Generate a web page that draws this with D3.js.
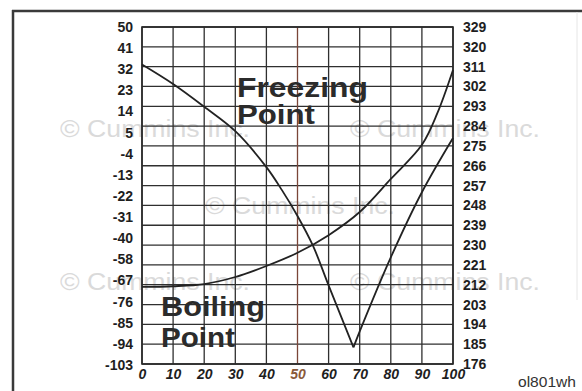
<!DOCTYPE html>
<html>
<head>
<meta charset="utf-8">
<script src="https://cdn.jsdelivr.net/npm/d3@7/dist/d3.min.js"></script>
<style>
  html, body { margin: 0; padding: 0; background: #fff; }
  svg { display: block; }
  text { font-family: "Liberation Sans", Arial, sans-serif; }
</style>
</head>
<body>
<svg id="chart" width="582" height="391"></svg>
<script>
// ---- data ----
const percentTicks = [0, 10, 20, 30, 40, 50, 60, 70, 80, 90, 100];
const leftTickLabels = ["50","41","32","23","14","5","-4","-13","-22","-31","-40","-58","-67","-76","-85","-94","-103"];
const rightTicks = [329,320,311,302,293,284,275,266,257,248,239,230,221,212,203,194,185,176];

// Freezing point (left axis, °F) vs percent
const freezeFallX = [0, 10, 20, 30, 40, 45, 50, 55, 60, 68];
const freezeFallY = [34, 25.7, 16, 5.6, -9.7, -19.5, -30.5, -46.5, -69.1, -95.5];
const freezeRiseX = [68, 70, 80, 90, 100];
const freezeRiseY = [-95.5, -88.7, -56.3, -20.4, 2.7];

// Boiling point (right axis, °F) vs percent
const boilX = [0, 10, 20, 30, 40, 50, 60, 70, 80, 90, 95, 100];
const boilY = [211, 211.3, 212.3, 215.5, 220.5, 226.5, 234.5, 245, 260, 275.5, 290, 309.5];

const watermarkText = "© Cummins Inc.";

// ---- layout ----
const svg = d3.select("#chart");
const X0 = 142, X1 = 453, Y0 = 27, Y1 = 364;

const x = d3.scaleLinear().domain([0, 100]).range([X0, X1]);
const yRight = d3.scaleLinear().domain([176, 329]).range([Y1, Y0]);
const yLeftLabels = d3.scalePoint().domain(leftTickLabels).range([27, 365]);
// left axis values are printed irregularly (-40 then -58), map through the label positions
const yLeft = d3.scaleLinear()
  .domain([50, -40, -58, -103])
  .range([yLeftLabels("50"), yLeftLabels("-40"), yLeftLabels("-58"), yLeftLabels("-103")]);

// outer frame
svg.append("line").attr("x1", 13).attr("x2", 13).attr("y1", 10).attr("y2", 391)
  .attr("stroke", "#3a3a3a").attr("stroke-width", 2.5);
svg.append("line").attr("x1", 12).attr("x2", 582).attr("y1", 11).attr("y2", 11)
  .attr("stroke", "#3a3a3a").attr("stroke-width", 2.5);
svg.append("line").attr("x1", 577).attr("x2", 577).attr("y1", 12).attr("y2", 300)
  .attr("stroke", "#e6e6e6").attr("stroke-width", 1);

// watermarks
const wm = [[60, 137], [350, 137], [205, 214], [60, 290], [350, 290]];
svg.append("g").selectAll("text").data(wm).enter().append("text")
  .attr("x", d => d[0]).attr("y", d => d[1])
  .attr("font-size", 23)
  .attr("textLength", 190).attr("lengthAdjust", "spacingAndGlyphs")
  .attr("fill", "#cbcbcb").attr("opacity", 0.7)
  .text(watermarkText);

// grid
const grid = svg.append("g");
grid.selectAll("line.h").data(rightTicks).enter().append("line")
  .attr("x1", X0).attr("x2", X1)
  .attr("y1", d => yRight(d)).attr("y2", d => yRight(d))
  .attr("stroke", "#2f2f2f").attr("stroke-width", 1.3);
grid.selectAll("line.v").data(percentTicks).enter().append("line")
  .attr("y1", Y0).attr("y2", Y1)
  .attr("x1", d => x(d)).attr("x2", d => x(d))
  .attr("stroke", d => d === 50 ? "#7a4638" : "#2f2f2f").attr("stroke-width", 1.3);
svg.append("rect").attr("x", X0).attr("y", Y0).attr("width", X1 - X0).attr("height", Y1 - Y0)
  .attr("fill", "none").attr("stroke", "#2a2a2a").attr("stroke-width", 1.6);

// axes
const axisFont = g => g.selectAll("text")
  .attr("font-size", 14).attr("font-weight", "bold").attr("fill", "#1e1e1e")
  .attr("font-family", "'Liberation Sans', Arial, sans-serif");

const gl = svg.append("g").attr("transform", `translate(${X0},0)`)
  .call(d3.axisLeft(yLeftLabels).tickSize(0).tickPadding(9));
gl.select(".domain").remove();
axisFont(gl);

const gr = svg.append("g").attr("transform", `translate(${X1},0)`)
  .call(d3.axisRight(yRight).tickValues(rightTicks).tickSize(0).tickPadding(10).tickFormat(d3.format("d")));
gr.select(".domain").remove();
axisFont(gr);

const gb = svg.append("g").attr("transform", `translate(0,${Y1})`)
  .call(d3.axisBottom(x).tickValues(percentTicks).tickSize(0).tickPadding(5).tickFormat(d3.format("d")));
gb.select(".domain").remove();
axisFont(gb);
gb.selectAll("text").attr("font-style", "italic").attr("fill", d => d === 50 ? "#8a5a3a" : "#1e1e1e");

// curves
const smooth = d3.curveCatmullRom.alpha(0.5);
const lineFreeze = d3.line().x(d => x(d[0])).y(d => yLeft(d[1])).curve(smooth);
const lineBoil = d3.line().x(d => x(d[0])).y(d => yRight(d[1])).curve(smooth);

svg.append("path").datum(d3.zip(freezeFallX, freezeFallY))
  .attr("d", lineFreeze).attr("fill", "none").attr("stroke", "#222").attr("stroke-width", 1.8);
svg.append("path").datum(d3.zip(freezeRiseX, freezeRiseY))
  .attr("d", lineFreeze).attr("fill", "none").attr("stroke", "#222").attr("stroke-width", 1.8);
svg.append("path").datum(d3.zip(boilX, boilY))
  .attr("d", lineBoil).attr("fill", "none").attr("stroke", "#222").attr("stroke-width", 1.8);

// labels
const big = [
  {t: "Freezing", x: 237, y: 97, w: 131},
  {t: "Point", x: 237, y: 124, w: 78},
  {t: "Boiling", x: 161, y: 316, w: 104},
  {t: "Point", x: 161, y: 347, w: 74}
];
svg.append("g").selectAll("text").data(big).enter().append("text")
  .attr("x", d => d.x).attr("y", d => d.y)
  .attr("font-size", 28).attr("font-weight", "bold").attr("fill", "#2b2b2b")
  .attr("textLength", d => d.w).attr("lengthAdjust", "spacingAndGlyphs")
  .text(d => d.t);

svg.append("text").attr("x", 518).attr("y", 387)
  .attr("font-size", 14).attr("fill", "#333")
  .attr("textLength", 58).attr("lengthAdjust", "spacingAndGlyphs")
  .text("ol801wh");
</script>
</body>
</html>
